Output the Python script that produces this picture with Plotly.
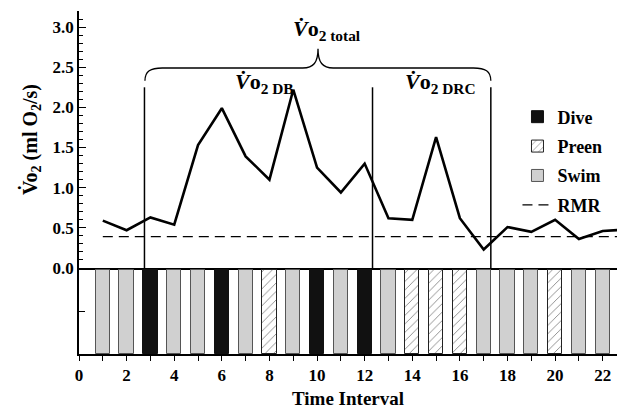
import plotly.graph_objects as go

# ---- data ----
intervals = list(range(1, 24))
vo2 = [0.59, 0.47, 0.63, 0.54, 1.53, 1.99, 1.39, 1.10, 2.22, 1.25, 0.94, 1.30,
       0.62, 0.60, 1.63, 0.62, 0.23, 0.51, 0.45, 0.60, 0.36, 0.46, 0.48]
rmr_value = 0.39
rmr_x = [1, 23]

activity_intervals = list(range(1, 23))
activities = ["Swim", "Swim", "Dive", "Swim", "Swim", "Dive", "Swim", "Preen", "Swim", "Dive",
              "Swim", "Dive", "Swim", "Preen", "Preen", "Preen", "Swim", "Swim", "Swim", "Preen",
              "Swim", "Swim"]
phase_bounds = [2.75, 12.33, 17.3]
phase_top = 2.25

x_tick_labels = [str(v) for v in range(0, 23, 2)]
y_tick_labels = ["0.0", "0.5", "1.0", "1.5", "2.0", "2.5", "3.0"]

FONT = "Liberation Serif"

fig = go.Figure()

styles = {
    "Dive": dict(color="#111111", line=dict(color="#111111", width=1)),
    "Preen": dict(color="white", line=dict(color="#222222", width=1),
                  pattern=dict(shape="/", fgcolor="#111111", bgcolor="white", size=6, solidity=0.15)),
    "Swim": dict(color="#d0d0d0", line=dict(color="#555555", width=1)),
}
for act in ["Dive", "Preen", "Swim"]:
    xs = [x for x, a in zip(activity_intervals, activities) if a == act]
    fig.add_trace(go.Bar(x=xs, y=[1] * len(xs), width=0.6, name=act, marker=styles[act],
                         xaxis="x2", yaxis="y2", legendgroup=act))

fig.add_trace(go.Scatter(x=intervals, y=vo2, mode="lines", line=dict(color="black", width=2.6),
                         showlegend=False, xaxis="x", yaxis="y", legendgroup="data"))
fig.add_trace(go.Scatter(x=rmr_x, y=[rmr_value] * len(rmr_x), mode="lines", name="RMR",
                         line=dict(color="black", width=1.3, dash="10px,6px"),
                         xaxis="x", yaxis="y", legendgroup="RMR"))

# phase boundaries
for xb in phase_bounds:
    fig.add_shape(type="line", xref="x", yref="y", x0=xb, x1=xb, y0=0, y1=phase_top,
                  line=dict(color="black", width=1.5))

# curly brace
brace = ("M 2.77,2.33 C 2.77,2.45 3.0,2.49 3.5,2.49 L 9.4,2.49 "
         "C 9.85,2.49 10.04,2.56 10.04,2.73 C 10.04,2.56 10.23,2.49 10.68,2.49 "
         "L 16.57,2.49 C 17.07,2.49 17.3,2.45 17.3,2.33")
fig.add_shape(type="path", xref="x", yref="y", path=brace, line=dict(color="black", width=1.3))

ann_font = dict(family=FONT, size=22, color="black", weight="bold")
for txt, ax, ay in [("<i>V\u0307</i>o<sub>2 total</sub>", 10.4, 2.96),
                    ("<i>V\u0307</i>o<sub>2 DB</sub>", 7.78, 2.30),
                    ("<i>V\u0307</i>o<sub>2 DRC</sub>", 15.17, 2.30)]:
    fig.add_annotation(x=ax, y=ay, xref="x", yref="y", text=txt, showarrow=False, font=ann_font)

split = 0.2507
tick_font = dict(family=FONT, size=17, color="black", weight="bold")
fig.update_layout(
    width=623, height=410,
    margin=dict(l=79, r=6, t=11, b=56, autoexpand=False),
    paper_bgcolor="white", plot_bgcolor="white",
    font=dict(family=FONT, color="black"),
    bargap=0,
    showlegend=True,
    legend=dict(x=0.815, y=0.745, xanchor="left", yanchor="top", bgcolor="rgba(0,0,0,0)",
                font=dict(family=FONT, size=18, color="black", weight="bold"),
                tracegroupgap=3, traceorder="grouped"),
    xaxis=dict(domain=[0, 1], anchor="y", range=[0, 22.6], showticklabels=False, ticks="",
               showline=True, linecolor="black", linewidth=1.5, showgrid=False, zeroline=False,
               automargin=False),
    yaxis=dict(domain=[split, 1], anchor="x", range=[0, 3.2],
               tickvals=[0, 0.5, 1.0, 1.5, 2.0, 2.5, 3.0], ticktext=y_tick_labels,
               ticks="inside", ticklen=7, tickwidth=1.3, tickcolor="black",
               minor=dict(dtick=0.1, tick0=0, ticks="inside", ticklen=4, tickcolor="black", tickwidth=1),
               tickfont=tick_font, showline=True, linecolor="black", linewidth=1.5,
               showgrid=False, zeroline=False, automargin=False,
               title=dict(text="V\u0307o<sub>2</sub> (ml O<sub>2</sub>/s)", standoff=10,
                          font=dict(family=FONT, size=20, color="black", weight="bold"))),
    xaxis2=dict(domain=[0, 1], anchor="y2", range=[0, 22.6],
                tickvals=list(range(0, 23, 2)), ticktext=x_tick_labels,
                ticks="outside", ticklen=5, tickwidth=1.3, tickcolor="black",
                minor=dict(dtick=1, tick0=0, ticks="outside", ticklen=5, tickcolor="black", tickwidth=1),
                tickfont=tick_font, showline=True, linecolor="black", linewidth=1.5,
                showgrid=False, zeroline=False, automargin=False,
                title=dict(text="Time Interval", standoff=8,
                           font=dict(family=FONT, size=19, color="black", weight="bold"))),
    yaxis2=dict(domain=[0, split], anchor="x2", range=[0, 1.02], tickvals=[0.5],
                showticklabels=False, ticks="inside", ticklen=6, tickcolor="black",
                showline=True, linecolor="black", linewidth=1.5, showgrid=False, zeroline=False,
                automargin=False),
)

fig.write_html("out.html", config={"displayModeBar": False},
               post_script="document.body.style.margin='0';")
